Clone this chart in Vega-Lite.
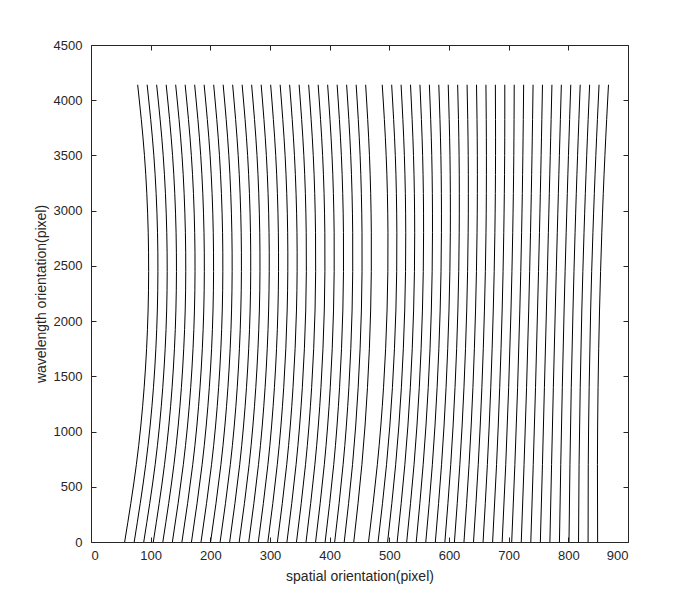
{
"$schema":"https://vega.github.io/schema/vega-lite/v6.json",
"width":537,"height":497,
"autosize":"none",
"padding":{"left":91,"top":45,"right":66,"bottom":68},
"background":"white",
"config":{"view":{"stroke":null},
 "axis":{"domainColor":"#262626","tickColor":"#262626","labelColor":"#262626","titleColor":"#262626","labelFont":"Liberation Sans","titleFont":"Liberation Sans","labelFontSize":13,"titleFontSize":14,"titleFontWeight":"normal","grid":false,"tickSize":-5,"domainWidth":1,"tickWidth":1,"format":"d"}},
"data":{"values":[
{"l":1,"y":0,"x":56.4},{"l":1,"y":700,"x":76.0},{"l":1,"y":1400,"x":89.1},{"l":1,"y":2100,"x":95.7},{"l":1,"y":2800,"x":95.9},{"l":1,"y":3500,"x":89.6},{"l":1,"y":4140,"x":78.2},
{"l":2,"y":0,"x":72.4},{"l":2,"y":700,"x":91.7},{"l":2,"y":1400,"x":104.7},{"l":2,"y":2100,"x":111.2},{"l":2,"y":2800,"x":111.5},{"l":2,"y":3500,"x":105.3},{"l":2,"y":4140,"x":94.1},
{"l":3,"y":0,"x":88.4},{"l":3,"y":700,"x":107.5},{"l":3,"y":1400,"x":120.3},{"l":3,"y":2100,"x":126.8},{"l":3,"y":2800,"x":127.0},{"l":3,"y":3500,"x":121.0},{"l":3,"y":4140,"x":110.0},
{"l":4,"y":0,"x":104.4},{"l":4,"y":700,"x":123.2},{"l":4,"y":1400,"x":135.9},{"l":4,"y":2100,"x":142.3},{"l":4,"y":2800,"x":142.6},{"l":4,"y":3500,"x":136.7},{"l":4,"y":4140,"x":126.0},
{"l":5,"y":0,"x":120.4},{"l":5,"y":700,"x":139.0},{"l":5,"y":1400,"x":151.5},{"l":5,"y":2100,"x":157.9},{"l":5,"y":2800,"x":158.2},{"l":5,"y":3500,"x":152.5},{"l":5,"y":4140,"x":141.9},
{"l":6,"y":0,"x":136.4},{"l":6,"y":700,"x":154.7},{"l":6,"y":1400,"x":167.1},{"l":6,"y":2100,"x":173.4},{"l":6,"y":2800,"x":173.8},{"l":6,"y":3500,"x":168.2},{"l":6,"y":4140,"x":157.8},
{"l":7,"y":0,"x":152.4},{"l":7,"y":700,"x":170.5},{"l":7,"y":1400,"x":182.7},{"l":7,"y":2100,"x":189.0},{"l":7,"y":2800,"x":189.4},{"l":7,"y":3500,"x":183.9},{"l":7,"y":4140,"x":173.7},
{"l":8,"y":0,"x":168.4},{"l":8,"y":700,"x":186.2},{"l":8,"y":1400,"x":198.3},{"l":8,"y":2100,"x":204.5},{"l":8,"y":2800,"x":204.9},{"l":8,"y":3500,"x":199.6},{"l":8,"y":4140,"x":189.6},
{"l":9,"y":0,"x":184.4},{"l":9,"y":700,"x":202.0},{"l":9,"y":1400,"x":213.9},{"l":9,"y":2100,"x":220.0},{"l":9,"y":2800,"x":220.5},{"l":9,"y":3500,"x":215.3},{"l":9,"y":4140,"x":205.6},
{"l":10,"y":0,"x":200.4},{"l":10,"y":700,"x":217.7},{"l":10,"y":1400,"x":229.5},{"l":10,"y":2100,"x":235.6},{"l":10,"y":2800,"x":236.1},{"l":10,"y":3500,"x":231.0},{"l":10,"y":4140,"x":221.5},
{"l":11,"y":0,"x":216.4},{"l":11,"y":700,"x":233.5},{"l":11,"y":1400,"x":245.1},{"l":11,"y":2100,"x":251.1},{"l":11,"y":2800,"x":251.7},{"l":11,"y":3500,"x":246.7},{"l":11,"y":4140,"x":237.4},
{"l":12,"y":0,"x":232.4},{"l":12,"y":700,"x":249.2},{"l":12,"y":1400,"x":260.6},{"l":12,"y":2100,"x":266.7},{"l":12,"y":2800,"x":267.3},{"l":12,"y":3500,"x":262.5},{"l":12,"y":4140,"x":253.3},
{"l":13,"y":0,"x":248.4},{"l":13,"y":700,"x":265.0},{"l":13,"y":1400,"x":276.2},{"l":13,"y":2100,"x":282.2},{"l":13,"y":2800,"x":282.8},{"l":13,"y":3500,"x":278.2},{"l":13,"y":4140,"x":269.2},
{"l":14,"y":0,"x":264.4},{"l":14,"y":700,"x":280.7},{"l":14,"y":1400,"x":291.8},{"l":14,"y":2100,"x":297.7},{"l":14,"y":2800,"x":298.4},{"l":14,"y":3500,"x":293.9},{"l":14,"y":4140,"x":285.2},
{"l":15,"y":0,"x":280.4},{"l":15,"y":700,"x":296.5},{"l":15,"y":1400,"x":307.4},{"l":15,"y":2100,"x":313.3},{"l":15,"y":2800,"x":314.0},{"l":15,"y":3500,"x":309.6},{"l":15,"y":4140,"x":301.1},
{"l":16,"y":0,"x":296.4},{"l":16,"y":700,"x":312.2},{"l":16,"y":1400,"x":323.0},{"l":16,"y":2100,"x":328.8},{"l":16,"y":2800,"x":329.6},{"l":16,"y":3500,"x":325.3},{"l":16,"y":4140,"x":317.0},
{"l":17,"y":0,"x":312.4},{"l":17,"y":700,"x":328.0},{"l":17,"y":1400,"x":338.6},{"l":17,"y":2100,"x":344.4},{"l":17,"y":2800,"x":345.2},{"l":17,"y":3500,"x":341.0},{"l":17,"y":4140,"x":332.9},
{"l":18,"y":0,"x":328.4},{"l":18,"y":700,"x":343.7},{"l":18,"y":1400,"x":354.2},{"l":18,"y":2100,"x":359.9},{"l":18,"y":2800,"x":360.7},{"l":18,"y":3500,"x":356.7},{"l":18,"y":4140,"x":348.8},
{"l":19,"y":0,"x":344.4},{"l":19,"y":700,"x":359.5},{"l":19,"y":1400,"x":369.8},{"l":19,"y":2100,"x":375.5},{"l":19,"y":2800,"x":376.3},{"l":19,"y":3500,"x":372.5},{"l":19,"y":4140,"x":364.8},
{"l":20,"y":0,"x":360.4},{"l":20,"y":700,"x":375.2},{"l":20,"y":1400,"x":385.4},{"l":20,"y":2100,"x":391.0},{"l":20,"y":2800,"x":391.9},{"l":20,"y":3500,"x":388.2},{"l":20,"y":4140,"x":380.7},
{"l":21,"y":0,"x":376.4},{"l":21,"y":700,"x":391.0},{"l":21,"y":1400,"x":401.0},{"l":21,"y":2100,"x":406.5},{"l":21,"y":2800,"x":407.5},{"l":21,"y":3500,"x":403.9},{"l":21,"y":4140,"x":396.6},
{"l":22,"y":0,"x":392.4},{"l":22,"y":700,"x":406.8},{"l":22,"y":1400,"x":416.6},{"l":22,"y":2100,"x":422.1},{"l":22,"y":2800,"x":423.1},{"l":22,"y":3500,"x":419.6},{"l":22,"y":4140,"x":412.5},
{"l":23,"y":0,"x":408.4},{"l":23,"y":700,"x":422.5},{"l":23,"y":1400,"x":432.2},{"l":23,"y":2100,"x":437.6},{"l":23,"y":2800,"x":438.6},{"l":23,"y":3500,"x":435.3},{"l":23,"y":4140,"x":428.4},
{"l":24,"y":0,"x":424.4},{"l":24,"y":700,"x":438.3},{"l":24,"y":1400,"x":447.8},{"l":24,"y":2100,"x":453.2},{"l":24,"y":2800,"x":454.2},{"l":24,"y":3500,"x":451.0},{"l":24,"y":4140,"x":444.4},
{"l":25,"y":0,"x":440.4},{"l":25,"y":700,"x":454.0},{"l":25,"y":1400,"x":463.4},{"l":25,"y":2100,"x":468.7},{"l":25,"y":2800,"x":469.8},{"l":25,"y":3500,"x":466.7},{"l":25,"y":4140,"x":460.3},
{"l":26,"y":0,"x":465.1},{"l":26,"y":700,"x":479.9},{"l":26,"y":1400,"x":490.3},{"l":26,"y":2100,"x":496.2},{"l":26,"y":2800,"x":497.7},{"l":26,"y":3500,"x":494.7},{"l":26,"y":4140,"x":488.1},
{"l":27,"y":0,"x":481.1},{"l":27,"y":700,"x":495.3},{"l":27,"y":1400,"x":505.2},{"l":27,"y":2100,"x":511.0},{"l":27,"y":2800,"x":512.6},{"l":27,"y":3500,"x":510.0},{"l":27,"y":4140,"x":503.9},
{"l":28,"y":0,"x":497.1},{"l":28,"y":700,"x":510.6},{"l":28,"y":1400,"x":520.2},{"l":28,"y":2100,"x":525.8},{"l":28,"y":2800,"x":527.5},{"l":28,"y":3500,"x":525.2},{"l":28,"y":4140,"x":519.7},
{"l":29,"y":0,"x":513.1},{"l":29,"y":700,"x":526.0},{"l":29,"y":1400,"x":535.2},{"l":29,"y":2100,"x":540.7},{"l":29,"y":2800,"x":542.5},{"l":29,"y":3500,"x":540.5},{"l":29,"y":4140,"x":535.5},
{"l":30,"y":0,"x":529.1},{"l":30,"y":700,"x":541.4},{"l":30,"y":1400,"x":550.2},{"l":30,"y":2100,"x":555.5},{"l":30,"y":2800,"x":557.4},{"l":30,"y":3500,"x":555.8},{"l":30,"y":4140,"x":551.3},
{"l":31,"y":0,"x":545.1},{"l":31,"y":700,"x":556.7},{"l":31,"y":1400,"x":565.2},{"l":31,"y":2100,"x":570.4},{"l":31,"y":2800,"x":572.3},{"l":31,"y":3500,"x":571.1},{"l":31,"y":4140,"x":567.1},
{"l":32,"y":0,"x":561.1},{"l":32,"y":700,"x":572.1},{"l":32,"y":1400,"x":580.1},{"l":32,"y":2100,"x":585.2},{"l":32,"y":2800,"x":587.3},{"l":32,"y":3500,"x":586.4},{"l":32,"y":4140,"x":582.9},
{"l":33,"y":0,"x":577.1},{"l":33,"y":700,"x":587.5},{"l":33,"y":1400,"x":595.1},{"l":33,"y":2100,"x":600.0},{"l":33,"y":2800,"x":602.2},{"l":33,"y":3500,"x":601.6},{"l":33,"y":4140,"x":598.7},
{"l":34,"y":0,"x":593.1},{"l":34,"y":700,"x":602.9},{"l":34,"y":1400,"x":610.1},{"l":34,"y":2100,"x":614.9},{"l":34,"y":2800,"x":617.1},{"l":34,"y":3500,"x":616.9},{"l":34,"y":4140,"x":614.5},
{"l":35,"y":0,"x":609.1},{"l":35,"y":700,"x":618.2},{"l":35,"y":1400,"x":625.1},{"l":35,"y":2100,"x":629.7},{"l":35,"y":2800,"x":632.1},{"l":35,"y":3500,"x":632.2},{"l":35,"y":4140,"x":630.3},
{"l":36,"y":0,"x":625.1},{"l":36,"y":700,"x":633.6},{"l":36,"y":1400,"x":640.1},{"l":36,"y":2100,"x":644.5},{"l":36,"y":2800,"x":647.0},{"l":36,"y":3500,"x":647.5},{"l":36,"y":4140,"x":646.1},
{"l":37,"y":0,"x":641.1},{"l":37,"y":700,"x":649.0},{"l":37,"y":1400,"x":655.1},{"l":37,"y":2100,"x":659.4},{"l":37,"y":2800,"x":662.0},{"l":37,"y":3500,"x":662.7},{"l":37,"y":4140,"x":661.9},
{"l":38,"y":0,"x":657.1},{"l":38,"y":700,"x":664.3},{"l":38,"y":1400,"x":670.0},{"l":38,"y":2100,"x":674.2},{"l":38,"y":2800,"x":676.9},{"l":38,"y":3500,"x":678.0},{"l":38,"y":4140,"x":677.7},
{"l":39,"y":0,"x":673.1},{"l":39,"y":700,"x":679.7},{"l":39,"y":1400,"x":685.0},{"l":39,"y":2100,"x":689.1},{"l":39,"y":2800,"x":691.8},{"l":39,"y":3500,"x":693.3},{"l":39,"y":4140,"x":693.5},
{"l":40,"y":0,"x":689.1},{"l":40,"y":700,"x":695.1},{"l":40,"y":1400,"x":700.0},{"l":40,"y":2100,"x":703.9},{"l":40,"y":2800,"x":706.8},{"l":40,"y":3500,"x":708.6},{"l":40,"y":4140,"x":709.3},
{"l":41,"y":0,"x":705.1},{"l":41,"y":700,"x":710.4},{"l":41,"y":1400,"x":715.0},{"l":41,"y":2100,"x":718.7},{"l":41,"y":2800,"x":721.7},{"l":41,"y":3500,"x":723.8},{"l":41,"y":4140,"x":725.1},
{"l":42,"y":0,"x":721.1},{"l":42,"y":700,"x":725.8},{"l":42,"y":1400,"x":730.0},{"l":42,"y":2100,"x":733.6},{"l":42,"y":2800,"x":736.6},{"l":42,"y":3500,"x":739.1},{"l":42,"y":4140,"x":740.9},
{"l":43,"y":0,"x":737.1},{"l":43,"y":700,"x":741.2},{"l":43,"y":1400,"x":745.0},{"l":43,"y":2100,"x":748.4},{"l":43,"y":2800,"x":751.6},{"l":43,"y":3500,"x":754.4},{"l":43,"y":4140,"x":756.7},
{"l":44,"y":0,"x":753.1},{"l":44,"y":700,"x":756.6},{"l":44,"y":1400,"x":759.9},{"l":44,"y":2100,"x":763.3},{"l":44,"y":2800,"x":766.5},{"l":44,"y":3500,"x":769.7},{"l":44,"y":4140,"x":772.5},
{"l":45,"y":0,"x":769.1},{"l":45,"y":700,"x":771.9},{"l":45,"y":1400,"x":774.9},{"l":45,"y":2100,"x":778.1},{"l":45,"y":2800,"x":781.5},{"l":45,"y":3500,"x":785.0},{"l":45,"y":4140,"x":788.3},
{"l":46,"y":0,"x":785.1},{"l":46,"y":700,"x":787.3},{"l":46,"y":1400,"x":789.9},{"l":46,"y":2100,"x":792.9},{"l":46,"y":2800,"x":796.4},{"l":46,"y":3500,"x":800.2},{"l":46,"y":4140,"x":804.1},
{"l":47,"y":0,"x":801.1},{"l":47,"y":700,"x":802.7},{"l":47,"y":1400,"x":804.9},{"l":47,"y":2100,"x":807.8},{"l":47,"y":2800,"x":811.3},{"l":47,"y":3500,"x":815.5},{"l":47,"y":4140,"x":819.9},
{"l":48,"y":0,"x":817.1},{"l":48,"y":700,"x":818.0},{"l":48,"y":1400,"x":819.9},{"l":48,"y":2100,"x":822.6},{"l":48,"y":2800,"x":826.3},{"l":48,"y":3500,"x":830.8},{"l":48,"y":4140,"x":835.7},
{"l":49,"y":0,"x":833.1},{"l":49,"y":700,"x":833.4},{"l":49,"y":1400,"x":834.9},{"l":49,"y":2100,"x":837.4},{"l":49,"y":2800,"x":841.2},{"l":49,"y":3500,"x":846.1},{"l":49,"y":4140,"x":851.5},
{"l":50,"y":0,"x":849.1},{"l":50,"y":700,"x":848.8},{"l":50,"y":1400,"x":849.8},{"l":50,"y":2100,"x":852.3},{"l":50,"y":2800,"x":856.1},{"l":50,"y":3500,"x":861.3},{"l":50,"y":4140,"x":867.3}
]},
"layer":[
{"mark":{"type":"line","color":"black","strokeWidth":1,"interpolate":"natural"},
 "encoding":{
  "x":{"field":"x","type":"quantitative","scale":{"domain":[0,900],"nice":false},
       "axis":{"values":[0,100,200,300,400,500,600,700,800,900],"title":"spatial orientation(pixel)","labelPadding":12,"titlePadding":7}},
  "y":{"field":"y","type":"quantitative","scale":{"domain":[0,4500],"nice":false},
       "axis":{"values":[0,500,1000,1500,2000,2500,3000,3500,4000,4500],"title":"wavelength orientation(pixel)","labelPadding":14,"titlePadding":5}},
  "detail":{"field":"l"},
  "order":{"field":"y"}}},
{"mark":{"type":"line","opacity":0},
 "encoding":{
  "x":{"field":"x","type":"quantitative","axis":{"orient":"top","values":[0,100,200,300,400,500,600,700,800,900],"labels":false,"title":null}},
  "y":{"field":"y","type":"quantitative","axis":{"orient":"right","values":[0,500,1000,1500,2000,2500,3000,3500,4000,4500],"labels":false,"title":null}},
  "detail":{"field":"l"},
  "order":{"field":"y"}}}
],
"resolve":{"axis":{"x":"independent","y":"independent"}}
}
